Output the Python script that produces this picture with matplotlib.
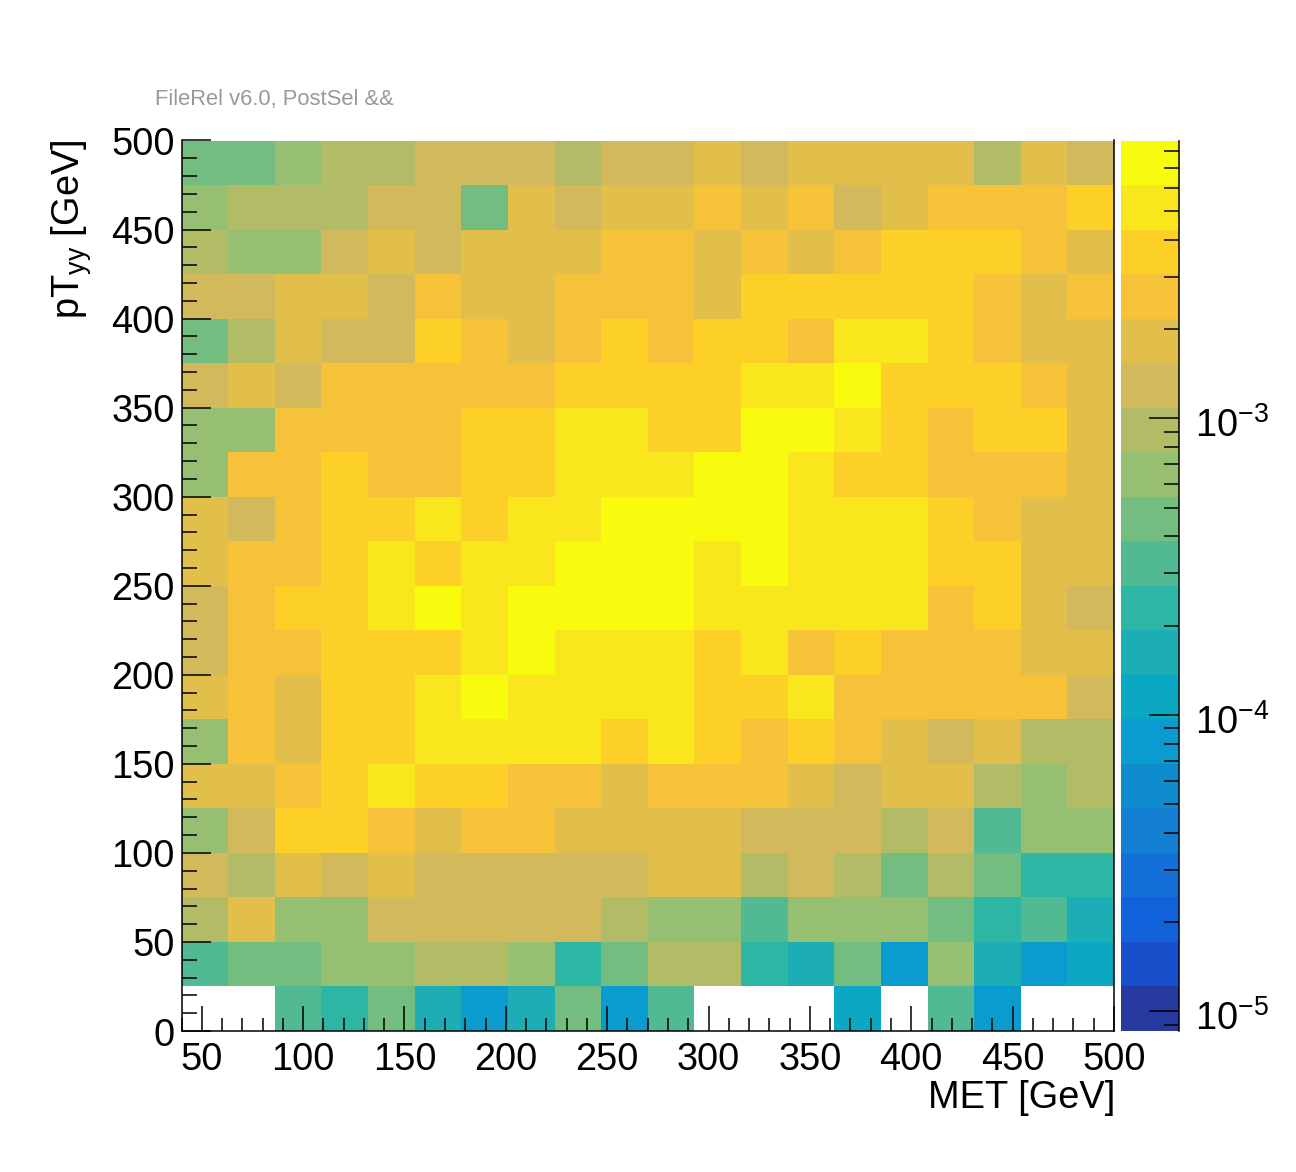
import numpy as np
import matplotlib
matplotlib.use('Agg')
import matplotlib.pyplot as plt
from matplotlib.colors import ListedColormap, BoundaryNorm
from matplotlib.ticker import MultipleLocator, LogLocator, LogFormatterMathtext, NullFormatter
from matplotlib.transforms import ScaledTranslation

plt.rcParams['font.family'] = ['Liberation Sans', 'DejaVu Sans']
plt.rcParams['mathtext.fontset'] = 'custom'
plt.rcParams['mathtext.rm'] = 'Liberation Sans'
plt.rcParams['mathtext.it'] = 'Liberation Sans:italic'
plt.rcParams['mathtext.bf'] = 'Liberation Sans:bold'

W, H = 1296, 1172
n = np.nan

# bin edges
met_edges = np.arange(40, 501, 23)
pt_edges = np.arange(0, 501, 25)

# bin contents in units of 1e-4, first row is the lowest pT bin
rate = np.array([
    [n, n, 3.2, 2.3, 4.6, 1.6, 0.81, 1.6, 4.6, 0.81, 3.2, n, n, n, 1.15, n, 3.2, 0.81, n, n],
    [3.2, 4.6, 4.6, 6.4, 6.4, 9.1, 9.1, 6.4, 2.3, 4.6, 9.1, 9.1, 2.3, 1.6, 4.6, 0.81, 6.4, 1.6, 0.81, 1.15],
    [9.1, 18, 6.4, 6.4, 13, 13, 13, 13, 13, 9.1, 6.4, 6.4, 3.2, 6.4, 6.4, 6.4, 4.6, 2.3, 3.2, 1.6],
    [13, 9.1, 18, 13, 18, 13, 13, 13, 13, 13, 18, 18, 9.1, 13, 9.1, 4.6, 9.1, 4.6, 2.3, 2.3],
    [6.4, 13, 36, 36, 26, 18, 26, 26, 18, 18, 18, 18, 13, 13, 13, 9.1, 13, 3.2, 6.4, 6.4],
    [18, 18, 26, 36, 51, 36, 36, 26, 26, 18, 26, 26, 26, 18, 13, 18, 18, 9.1, 6.4, 9.1],
    [6.4, 26, 18, 36, 36, 51, 51, 51, 51, 36, 51, 36, 26, 36, 26, 18, 13, 18, 9.1, 9.1],
    [18, 26, 18, 36, 36, 51, 72, 51, 51, 51, 51, 36, 36, 51, 26, 26, 26, 26, 26, 13],
    [13, 26, 26, 36, 36, 36, 51, 72, 51, 51, 51, 36, 51, 26, 36, 26, 26, 26, 18, 18],
    [13, 26, 36, 36, 51, 72, 51, 72, 72, 72, 72, 51, 51, 51, 51, 51, 26, 36, 18, 13],
    [18, 26, 26, 36, 51, 36, 51, 51, 72, 72, 72, 51, 72, 51, 51, 51, 36, 36, 18, 18],
    [18, 13, 26, 36, 36, 51, 36, 51, 51, 72, 72, 72, 72, 51, 51, 51, 36, 26, 18, 18],
    [6.4, 26, 26, 36, 26, 26, 36, 36, 51, 51, 51, 72, 72, 51, 36, 36, 26, 26, 26, 18],
    [6.4, 6.4, 26, 26, 26, 26, 36, 36, 51, 51, 36, 36, 72, 72, 51, 36, 26, 36, 36, 18],
    [13, 18, 13, 26, 26, 26, 26, 26, 36, 36, 36, 36, 51, 51, 72, 36, 36, 36, 26, 18],
    [4.6, 9.1, 18, 13, 13, 36, 26, 18, 26, 36, 26, 36, 36, 26, 51, 51, 36, 26, 18, 18],
    [13, 13, 18, 18, 13, 26, 18, 18, 26, 26, 26, 18, 36, 36, 36, 36, 36, 26, 18, 26],
    [9.1, 6.4, 6.4, 13, 18, 13, 18, 18, 18, 26, 26, 18, 26, 18, 26, 36, 36, 36, 26, 18],
    [6.4, 9.1, 9.1, 9.1, 13, 13, 4.6, 18, 13, 18, 18, 26, 18, 26, 13, 18, 26, 26, 26, 36],
    [4.6, 4.6, 6.4, 9.1, 9.1, 13, 13, 13, 9.1, 13, 13, 18, 13, 18, 18, 18, 18, 9.1, 18, 13],
]) * 1e-4

# palette as seen on the colour bar, bottom to top
palette = ['#26399f', '#164fc9', '#1161db', '#1270d8', '#127fd2', '#0e8ccd',
           '#0a9ccf', '#0ba8c3', '#1dadb4', '#2db6a4', '#51ba93', '#74bd80',
           '#96bf72', '#b2bc66', '#d1b95c', '#e2be4b', '#f5c23a', '#fdd028',
           '#f9e61c', '#f9fb0e']
z_min = 10 ** -5.066
z_max = 10 ** -2.063
z_levels = np.logspace(np.log10(z_min), np.log10(z_max), len(palette) + 1)

cmap = ListedColormap(palette)
norm = BoundaryNorm(z_levels, cmap.N)
label_size = 27.4

fig = plt.figure(figsize=(W / 100, H / 100), dpi=100)
ax = fig.add_axes([181.5 / W, 1 - 1031 / H, (1114 - 181.5) / W, (1031 - 140.5) / H])
ax.pcolormesh(met_edges, pt_edges, rate, cmap=cmap, norm=norm, antialiased=False, linewidth=0)
ax.set_xlim(40, 500)
ax.set_ylim(0, 500)
ax.spines['top'].set_visible(False)
for s in ['left', 'right', 'bottom']:
    ax.spines[s].set_linewidth(1.1)

ax.xaxis.set_major_locator(MultipleLocator(50))
ax.xaxis.set_minor_locator(MultipleLocator(10))
ax.yaxis.set_major_locator(MultipleLocator(50))
ax.yaxis.set_minor_locator(MultipleLocator(10))
ax.tick_params(axis='x', which='major', direction='in', length=18, width=1.1, labelsize=label_size, pad=8)
ax.tick_params(axis='x', which='minor', direction='in', length=9.4, width=1.1)
ax.tick_params(axis='y', which='major', direction='in', length=21, width=1.1, labelsize=label_size, pad=5)
ax.tick_params(axis='y', which='minor', direction='in', length=10.8, width=1.1)

# ROOT puts the numbers a little below the tick
down_y = ScaledTranslation(0, -0.5 / 100, fig.dpi_scale_trans)
for t in ax.get_yticklabels():
    t.set_transform(t.get_transform() + down_y)

# colour bar
cax = fig.add_axes([1121 / W, 1 - 1031 / H, (1179 - 1121) / W, (1031 - 140.5) / H])
cax.set_yscale('log')
bar_values = np.sqrt(z_levels[:-1] * z_levels[1:]).reshape(-1, 1)
cax.pcolormesh([0, 1], z_levels, bar_values, cmap=cmap, norm=norm, antialiased=False, linewidth=0)
cax.set_ylim(z_min, z_max)
cax.set_xticks([])
for s in ['left', 'top', 'bottom']:
    cax.spines[s].set_visible(False)
cax.spines['right'].set_linewidth(1.1)
cax.yaxis.tick_right()
cax.yaxis.set_major_locator(LogLocator(base=10, numticks=10))
cax.yaxis.set_minor_locator(LogLocator(base=10, subs=np.arange(2, 10), numticks=10))
cax.yaxis.set_major_formatter(LogFormatterMathtext())
cax.yaxis.set_minor_formatter(NullFormatter())
cax.tick_params(axis='y', which='major', direction='in', length=21.5, width=1.1, labelsize=label_size, pad=11.5)
cax.tick_params(axis='y', which='minor', direction='in', length=11, width=1.1)
down_z = ScaledTranslation(0, -4 / 100, fig.dpi_scale_trans)
for t in cax.get_yticklabels():
    t.set_transform(t.get_transform() + down_z)

fig.text(155 / W, 1 - 105 / H, 'FileRel v6.0, PostSel &&', color='#999999', fontsize=15.8, ha='left', va='baseline')
fig.text(1115 / W, 1 - 1108 / H, 'MET [GeV]', fontsize=label_size, ha='right', va='baseline')
fig.text(80 / W, 1 - 140 / H, r'pT$_{\mathrm{yy}}$ [GeV]', fontsize=label_size, rotation=90,
         ha='right', va='baseline', rotation_mode='anchor')

fig.savefig('out.png', dpi=100)
